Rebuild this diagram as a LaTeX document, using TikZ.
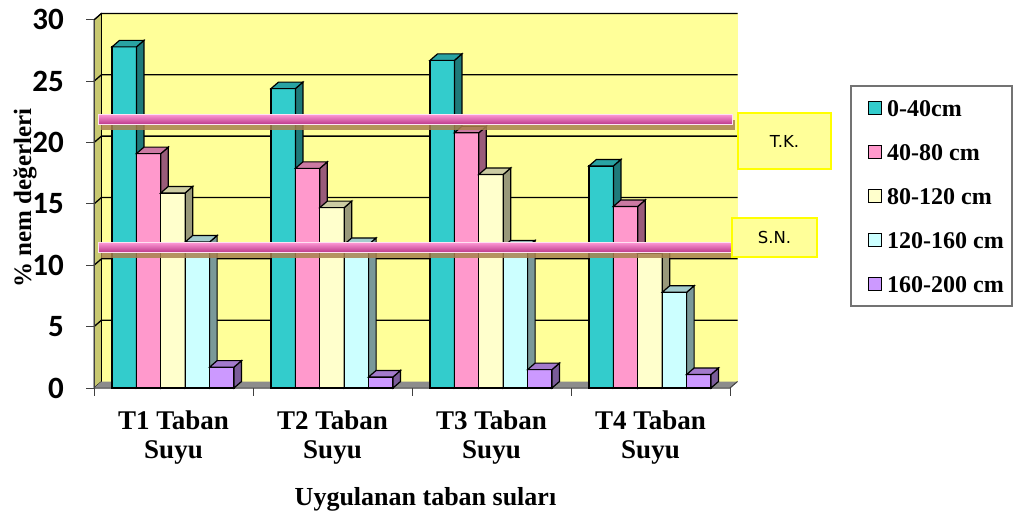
\documentclass[tikz,border=0pt]{standalone}
\usepackage{fontspec}
\setmainfont{Liberation Serif}
\newfontfamily\numfont{Carlito}
\newfontfamily\boxfont{DejaVu Sans}
\definecolor{tealbar}{HTML}{33CCCC}
\definecolor{pinkbar}{HTML}{FF99CC}
\definecolor{creambar}{HTML}{FFFFCC}
\definecolor{cyanbar}{HTML}{CCFFFF}
\definecolor{lilacbar}{HTML}{CC99FF}
\definecolor{wallback}{HTML}{FFFF99}
\definecolor{wallside}{HTML}{C8C870}
\definecolor{tubeshadow}{HTML}{A8824E}
\definecolor{tubetop}{HTML}{FF9AD6}
\definecolor{tubemid}{HTML}{EA58B2}
\definecolor{tubebot}{HTML}{BC3A8C}
\definecolor{boxline}{HTML}{FFFF00}
\tikzset{
  ticklbl/.style={font=\numfont\bfseries\fontsize{31}{33}\selectfont,anchor=east,inner sep=0pt},
  catlbl/.style={font=\bfseries\fontsize{27}{29}\selectfont,anchor=base,inner sep=0pt},
  legtxt/.style={font=\bfseries\fontsize{24}{26}\selectfont,anchor=base west,inner sep=0pt},
  legmark/.style={draw,line width=1.3pt,minimum size=13pt,inner sep=0pt},
  refbox/.style={draw=boxline,line width=1.8pt,fill=wallback,font=\boxfont\fontsize{16.5}{18}\selectfont},
  gridln/.style={line width=1.3pt},
  barln/.style={line width=1.2pt},
}
% one 3d bar: left x, value, colour
\newcommand{\drawbar}[3]{%
  \pgfmathsetmacro{\ytop}{388-12.27*#2}
  \draw[barln,fill=#3] (#1,388) rectangle (#1+24.4,\ytop);
  \draw[barln,fill=#3!60!black] (#1+24.4,388) -- (#1+24.4,\ytop) -- ++(7.5,-6.5) -- (#1+31.9,381.5) -- cycle;
  \draw[barln,fill=#3!80!black] (#1,\ytop) -- ++(7.5,-6.5) -- ++(24.4,0) -- (#1+24.4,\ytop) -- cycle;
}
% one line for T.K. / S.N.: top y, right x
\newcommand{\drawtube}[2]{%
  \fill[tubeshadow,opacity=0.85] (101,#1+6) rectangle (#2+3,#1+15.7);
  \shade[top color=tubetop,middle color=tubemid,bottom color=tubebot,draw=white!70!tubetop,line width=0.8pt] (98,#1) rectangle (#2,#1+9.7);
}
\begin{document}
\begin{tikzpicture}[x=1pt,y=-1pt]
\useasboundingbox (0,0) rectangle (1015,515);
% walls and floor
\fill[wallback] (101.5,381.5) -- (101.5,13.4) -- (737.5,13.4) -- (737.5,381.5) -- cycle;
\draw[fill=wallside,line width=0.8pt] (94,388) -- (94,19.9) -- (101.5,13.4) -- (101.5,381.5) -- cycle;
\fill[black!45] (94,388) -- (101.5,381.5) -- (737.5,381.5) -- (730,388) -- cycle;
\foreach \v in {5,10,...,30}
  \draw[gridln] (94,388-12.27*\v) -- ++(7.5,-6.5) -- (737.5,381.5-12.27*\v);
% axes
\draw[line width=1pt,black!75] (94,388) -- (94,19.9);
\draw[line width=1pt,black!75] (94,388) -- (730,388) -- (737.5,381.5);
\foreach \v in {0,5,...,30} {
  \draw[line width=1pt,black!75] (86,388-12.27*\v) -- (94,388-12.27*\v);
  \node[ticklbl] (y\v) at (64,388-12.27*\v) {\v};
}
\foreach \k in {0,...,4}
  \draw[line width=1pt,black!75] (94+159*\k,388) -- (94+159*\k,396);
% bars
\foreach \g/\va/\vb/\vc/\vd/\ve in {0/27.8/19.1/15.9/11.9/1.7,1/24.4/17.9/14.7/11.7/0.9,
    2/26.7/20.8/17.4/11.5/1.5,3/18.1/14.8/11.0/7.8/1.1} {
  \pgfmathsetmacro{\xs}{112+159*\g}
  \drawbar{\xs}{\va}{tealbar}
  \drawbar{\xs+24.4}{\vb}{pinkbar}
  \drawbar{\xs+48.8}{\vc}{creambar}
  \drawbar{\xs+73.2}{\vd}{cyanbar}
  \drawbar{\xs+97.6}{\ve}{lilacbar}
}
% T.K. and S.N. lines
\drawtube{114.3}{732}
\drawtube{242.3}{731}
\node[refbox,minimum width=93pt,minimum height=56pt] (tk) at (784.5,141) {T.K.};
\node[refbox,minimum width=85pt,minimum height=39pt] (sn) at (774.5,237.5) {S.N.};
% axis texts
\foreach \k/\t in {0/T1,1/T2,2/T3,3/T4} {
  \node[catlbl] (c\k a) at (173.5+159*\k,429) {\t{} Taban};
  \node[catlbl] (c\k b) at (173.5+159*\k,458) {Suyu};
}
\node[catlbl,font=\bfseries\fontsize{26}{29}\selectfont] (xtitle) at (425.5,505) {Uygulanan taban suları};
\node[font=\bfseries\fontsize{25}{27}\selectfont,rotate=90,anchor=base,inner sep=0pt] (ytitle) at (31,198) {\% nem değerleri};
% legend
\draw[line width=1.3pt,black!55] (851,86) rectangle (1012,306);
\foreach \i/\c/\t in {0/tealbar/0-40cm,1/pinkbar/40-80 cm,2/creambar/80-120 cm,3/cyanbar/120-160 cm,4/lilacbar/160-200 cm} {
  \node[legmark,fill=\c] (m\i) at (875,108+44*\i) {};
  \node[legtxt] (l\i) at (887,116+44*\i) {\t};
}
\end{tikzpicture}
\end{document}
